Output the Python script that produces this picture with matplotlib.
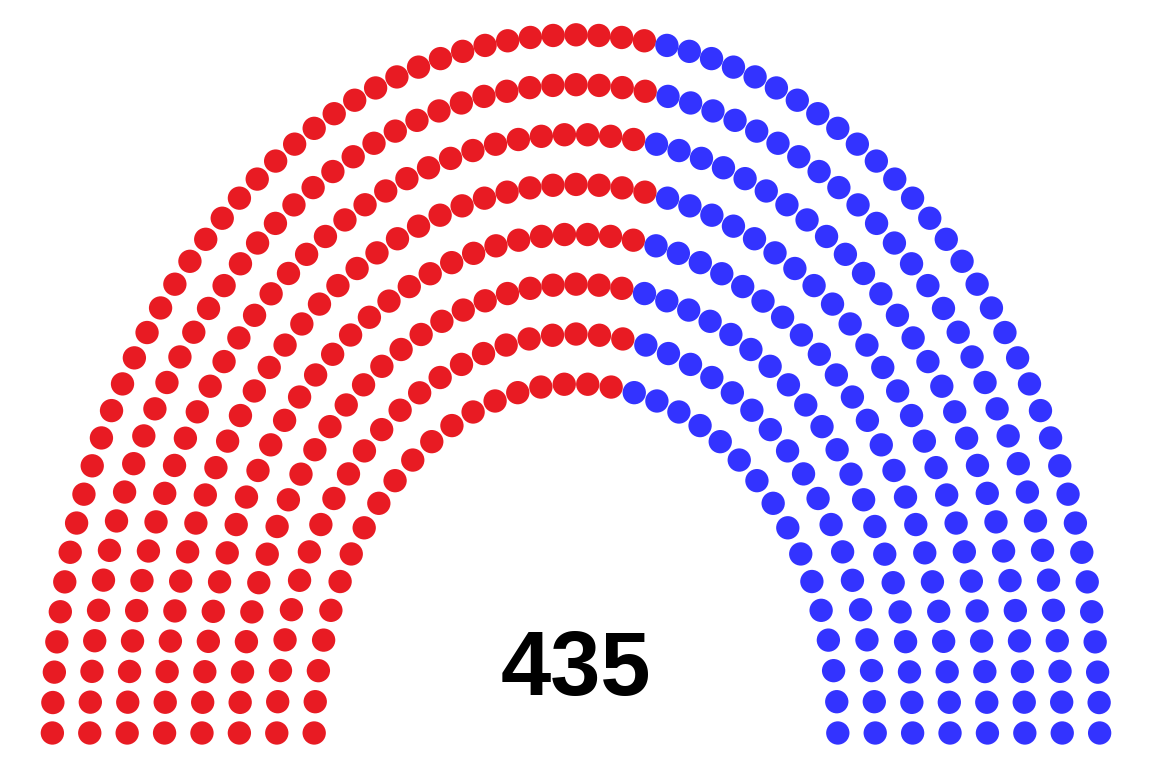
##############################################################################
########################################################## necessary modules #
##############################################################################
import numpy as np
import matplotlib
matplotlib.use("Agg")
import matplotlib.pyplot as plt

##############################################################################
####################################################################### data #
##############################################################################

parties   = ['Republican', 'Democratic']
seats     = [241, 194]
colors    = ['#E81B23', '#3333FF']
row_seats = [36, 41, 47, 52, 57, 62, 67, 73]   # inner row -> outer row
total     = sum(seats)

##############################################################################
############################################################### computations #
##############################################################################

# rows sit at radius 7, 8, ..., 14 (units of row spacing)
ang_all = []
x_all = []
y_all = []
for i, n in enumerate(row_seats):
    r = 7 + i
    theta = np.linspace(np.pi, 0, n)
    ang_all.extend(theta)
    x_all.extend(r*np.cos(theta))
    y_all.extend(r*np.sin(theta))

ang_all = np.array(ang_all)
x_all = np.array(x_all)
y_all = np.array(y_all)

# seats are handed out from the left, ordered by angle over all rows
order = np.argsort(-ang_all, kind='stable')
seat_col = np.empty(total, dtype=object)
start = 0
for p, n in enumerate(seats):
    seat_col[order[start:start+n]] = colors[p]
    start += n

##############################################################################
############################################################## visualization #
##############################################################################

fig = plt.figure(figsize=(11.52, 7.68), dpi=100)
ax = fig.add_axes([0, 0, 1, 1])

ax.scatter(x_all, y_all, s=282, c=list(seat_col), linewidths=0)

ax.text(0, 0.76, str(total),
        ha='center', va='baseline',
        fontsize=65, fontweight='bold',
        family=['Liberation Sans', 'DejaVu Sans'],
        color='black')

ax.set_xlim(-15.4, 15.4)
ax.set_ylim(-0.702, 14.698)
ax.axis('off')

plt.savefig("out.png", dpi=100, facecolor='white')
